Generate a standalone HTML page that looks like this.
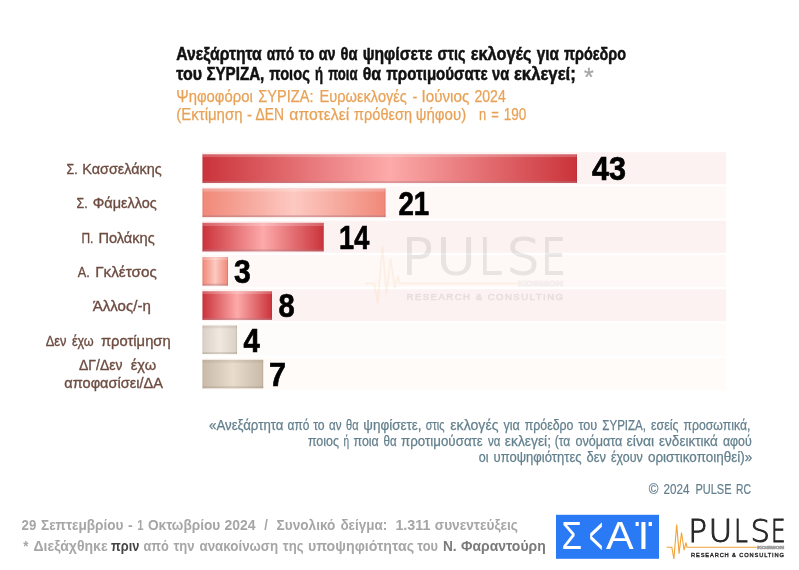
<!DOCTYPE html>
<html lang="el"><head><meta charset="utf-8"><title>PULSE RC - ΣΥΡΙΖΑ</title>
<style>html,body{margin:0;padding:0;background:#fff;}body{width:799px;height:570px;overflow:hidden;font-family:"Liberation Sans",sans-serif;}svg{display:block;}text{font-family:"Liberation Sans",sans-serif;}text.dv{font-family:"DejaVu Sans","Liberation Sans",sans-serif;font-weight:200;}</style>
</head><body>
<svg width="799" height="570" viewBox="0 0 799 570">
<defs>
<linearGradient id="gR" x1="0" y1="0" x2="1" y2="0"><stop offset="0" stop-color="#ca333a"/><stop offset="0.5" stop-color="#fdaaaa"/><stop offset="1" stop-color="#ca333a"/></linearGradient>
<linearGradient id="gS" x1="0" y1="0" x2="1" y2="0"><stop offset="0" stop-color="#f08878"/><stop offset="0.5" stop-color="#fdc9c2"/><stop offset="1" stop-color="#f08878"/></linearGradient>
<linearGradient id="gB1" x1="0" y1="0" x2="1" y2="0"><stop offset="0" stop-color="#d9d0c6"/><stop offset="0.5" stop-color="#f0e9e0"/><stop offset="1" stop-color="#d9d0c6"/></linearGradient>
<linearGradient id="gB2" x1="0" y1="0" x2="1" y2="0"><stop offset="0" stop-color="#c9baa9"/><stop offset="0.5" stop-color="#e8dccd"/><stop offset="1" stop-color="#c9baa9"/></linearGradient>
<linearGradient id="bevT" x1="0" y1="0" x2="0" y2="1"><stop offset="0" stop-color="#d8b0b0" stop-opacity="0.42"/><stop offset="0.3" stop-color="#ffffff" stop-opacity="0.2"/><stop offset="0.85" stop-color="#ffffff" stop-opacity="0.22"/><stop offset="1" stop-color="#ffffff" stop-opacity="0"/></linearGradient>
<linearGradient id="bevB" x1="0" y1="0" x2="0" y2="1"><stop offset="0" stop-color="#b08088" stop-opacity="0"/><stop offset="0.3" stop-color="#b08088" stop-opacity="0.35"/><stop offset="1" stop-color="#a06068" stop-opacity="0.45"/></linearGradient>
<linearGradient id="bevT2" x1="0" y1="0" x2="0" y2="1"><stop offset="0" stop-color="#a09080" stop-opacity="0.25"/><stop offset="0.85" stop-color="#a09080" stop-opacity="0.16"/><stop offset="1" stop-color="#a09080" stop-opacity="0"/></linearGradient>
<linearGradient id="bevB2" x1="0" y1="0" x2="0" y2="1"><stop offset="0" stop-color="#988878" stop-opacity="0"/><stop offset="0.3" stop-color="#988878" stop-opacity="0.25"/><stop offset="1" stop-color="#988878" stop-opacity="0.35"/></linearGradient>
</defs>
<rect width="799" height="570" fill="#ffffff"/>
<rect x="202" y="152.20" width="524" height="32.1" fill="#fdf2f2"/>
<rect x="202" y="186.44" width="524" height="32.1" fill="#fef8f7"/>
<rect x="202" y="220.68" width="524" height="32.1" fill="#fdf2f2"/>
<rect x="202" y="254.92" width="524" height="32.1" fill="#fef8f7"/>
<rect x="202" y="289.16" width="524" height="32.1" fill="#fdf2f2"/>
<rect x="202" y="323.40" width="524" height="32.1" fill="#fefcfb"/>
<rect x="202" y="357.64" width="524" height="32.1" fill="#fefbf9"/>
<rect x="202.5" y="154.35" width="374.5" height="28.5" fill="url(#gR)"/>
<rect x="202.5" y="154.35" width="374.5" height="3.2" fill="url(#bevT)"/>
<rect x="202.5" y="180.45" width="374.5" height="2.4" fill="url(#bevB)"/>
<rect x="576.1" y="154.35" width="0.9" height="28.5" fill="#803038" fill-opacity="0.18"/>
<rect x="202.5" y="154.35" width="0.9" height="28.5" fill="#803038" fill-opacity="0.12"/>
<rect x="202.5" y="188.59" width="183.0" height="28.5" fill="url(#gS)"/>
<rect x="202.5" y="188.59" width="183.0" height="3.2" fill="url(#bevT)"/>
<rect x="202.5" y="214.69" width="183.0" height="2.4" fill="url(#bevB)"/>
<rect x="384.6" y="188.59" width="0.9" height="28.5" fill="#803038" fill-opacity="0.18"/>
<rect x="202.5" y="188.59" width="0.9" height="28.5" fill="#803038" fill-opacity="0.12"/>
<rect x="202.5" y="222.83" width="121.2" height="28.5" fill="url(#gR)"/>
<rect x="202.5" y="222.83" width="121.2" height="3.2" fill="url(#bevT)"/>
<rect x="202.5" y="248.93" width="121.2" height="2.4" fill="url(#bevB)"/>
<rect x="322.8" y="222.83" width="0.9" height="28.5" fill="#803038" fill-opacity="0.18"/>
<rect x="202.5" y="222.83" width="0.9" height="28.5" fill="#803038" fill-opacity="0.12"/>
<rect x="202.5" y="257.07" width="25.5" height="28.5" fill="url(#gS)"/>
<rect x="202.5" y="257.07" width="25.5" height="3.2" fill="url(#bevT)"/>
<rect x="202.5" y="283.17" width="25.5" height="2.4" fill="url(#bevB)"/>
<rect x="227.1" y="257.07" width="0.9" height="28.5" fill="#803038" fill-opacity="0.18"/>
<rect x="202.5" y="257.07" width="0.9" height="28.5" fill="#803038" fill-opacity="0.12"/>
<rect x="202.5" y="291.31" width="69.5" height="28.5" fill="url(#gR)"/>
<rect x="202.5" y="291.31" width="69.5" height="3.2" fill="url(#bevT)"/>
<rect x="202.5" y="317.41" width="69.5" height="2.4" fill="url(#bevB)"/>
<rect x="271.1" y="291.31" width="0.9" height="28.5" fill="#803038" fill-opacity="0.18"/>
<rect x="202.5" y="291.31" width="0.9" height="28.5" fill="#803038" fill-opacity="0.12"/>
<rect x="202.5" y="325.55" width="34.5" height="28.5" fill="url(#gB1)"/>
<rect x="202.5" y="325.55" width="34.5" height="3.2" fill="url(#bevT2)"/>
<rect x="202.5" y="351.65" width="34.5" height="2.4" fill="url(#bevB2)"/>
<rect x="236.1" y="325.55" width="0.9" height="28.5" fill="#80705c" fill-opacity="0.18"/>
<rect x="202.5" y="325.55" width="0.9" height="28.5" fill="#80705c" fill-opacity="0.12"/>
<rect x="202.5" y="359.79" width="60.7" height="28.5" fill="url(#gB2)"/>
<rect x="202.5" y="359.79" width="60.7" height="3.2" fill="url(#bevT2)"/>
<rect x="202.5" y="385.89" width="60.7" height="2.4" fill="url(#bevB2)"/>
<rect x="262.3" y="359.79" width="0.9" height="28.5" fill="#80705c" fill-opacity="0.18"/>
<rect x="202.5" y="359.79" width="0.9" height="28.5" fill="#80705c" fill-opacity="0.12"/>
<text transform="translate(592.08,180.30) scale(0.913,1)" font-size="33.5" font-weight="bold" fill="#000" stroke="#000" stroke-width="0.7">43</text>
<text transform="translate(398.39,214.54) scale(0.826,1)" font-size="33.5" font-weight="bold" fill="#000" stroke="#000" stroke-width="0.7">21</text>
<text transform="translate(339.12,248.78) scale(0.809,1)" font-size="33.5" font-weight="bold" fill="#000" stroke="#000" stroke-width="0.7">14</text>
<text transform="translate(233.99,283.02) scale(0.900,1)" font-size="33.5" font-weight="bold" fill="#000" stroke="#000" stroke-width="0.7">3</text>
<text transform="translate(278.54,317.26) scale(0.869,1)" font-size="33.5" font-weight="bold" fill="#000" stroke="#000" stroke-width="0.7">8</text>
<text transform="translate(243.53,351.50) scale(0.875,1)" font-size="33.5" font-weight="bold" fill="#000" stroke="#000" stroke-width="0.7">4</text>
<text transform="translate(269.08,385.74) scale(0.912,1)" font-size="33.5" font-weight="bold" fill="#000" stroke="#000" stroke-width="0.7">7</text>
<text y="60.3" font-size="18.0" font-weight="bold" stroke-width="0.5"><tspan x="176.2" textLength="85.6" lengthAdjust="spacingAndGlyphs" fill="#111" stroke="#111">Ανεξάρτητα</tspan> <tspan x="266.7" textLength="27.6" lengthAdjust="spacingAndGlyphs" fill="#111" stroke="#111">από</tspan> <tspan x="298.8" textLength="15.4" lengthAdjust="spacingAndGlyphs" fill="#111" stroke="#111">το</tspan> <tspan x="318.7" textLength="16.9" lengthAdjust="spacingAndGlyphs" fill="#111" stroke="#111">αν</tspan> <tspan x="340.6" textLength="16.9" lengthAdjust="spacingAndGlyphs" fill="#111" stroke="#111">θα</tspan> <tspan x="362.7" textLength="69.7" lengthAdjust="spacingAndGlyphs" fill="#111" stroke="#111">ψηφίσετε</tspan> <tspan x="437.6" textLength="27.9" lengthAdjust="spacingAndGlyphs" fill="#111" stroke="#111">στις</tspan> <tspan x="470.7" textLength="60.8" lengthAdjust="spacingAndGlyphs" fill="#111" stroke="#111">εκλογές</tspan> <tspan x="536.7" textLength="22.1" lengthAdjust="spacingAndGlyphs" fill="#111" stroke="#111">για</tspan> <tspan x="564.0" textLength="62.1" lengthAdjust="spacingAndGlyphs" fill="#111" stroke="#111">πρόεδρο</tspan></text>
<text y="80.3" font-size="18.0" font-weight="bold" stroke-width="0.5"><tspan x="176.2" textLength="25.8" lengthAdjust="spacingAndGlyphs" fill="#111" stroke="#111">του</tspan> <tspan x="206.4" textLength="57.9" lengthAdjust="spacingAndGlyphs" fill="#111" stroke="#111">ΣΥΡΙΖΑ,</tspan> <tspan x="269.3" textLength="40.5" lengthAdjust="spacingAndGlyphs" fill="#111" stroke="#111">ποιος</tspan> <tspan x="315.0" textLength="8.0" lengthAdjust="spacingAndGlyphs" fill="#111" stroke="#111">ή</tspan> <tspan x="328.2" textLength="29.3" lengthAdjust="spacingAndGlyphs" fill="#111" stroke="#111">ποια</tspan> <tspan x="362.7" textLength="18.4" lengthAdjust="spacingAndGlyphs" fill="#111" stroke="#111">θα</tspan> <tspan x="386.3" textLength="101.3" lengthAdjust="spacingAndGlyphs" fill="#111" stroke="#111">προτιμούσατε</tspan> <tspan x="492.0" textLength="17.2" lengthAdjust="spacingAndGlyphs" fill="#111" stroke="#111">να</tspan> <tspan x="513.9" textLength="61.9" lengthAdjust="spacingAndGlyphs" fill="#111" stroke="#111">εκλεγεί;</tspan></text>
<text x="583.9" y="85.6" font-size="25" fill="#a6a6a6" stroke="#a6a6a6" stroke-width="0.3">*</text>
<text y="101.8" font-size="15.8" stroke-width="0.25"><tspan x="176.3" textLength="76.5" lengthAdjust="spacingAndGlyphs" fill="#e8a257" stroke="#e8a257">Ψηφοφόροι</tspan> <tspan x="258.3" textLength="55.2" lengthAdjust="spacingAndGlyphs" fill="#e8a257" stroke="#e8a257">ΣΥΡΙΖΑ:</tspan> <tspan x="319.5" textLength="87.4" lengthAdjust="spacingAndGlyphs" fill="#e8a257" stroke="#e8a257">Ευρωεκλογές</tspan> <tspan x="412.5" textLength="4.8" lengthAdjust="spacingAndGlyphs" fill="#e8a257" stroke="#e8a257">-</tspan> <tspan x="421.6" textLength="47.6" lengthAdjust="spacingAndGlyphs" fill="#e8a257" stroke="#e8a257">Ιούνιος</tspan> <tspan x="474.5" textLength="31.2" lengthAdjust="spacingAndGlyphs" fill="#e8a257" stroke="#e8a257">2024</tspan></text>
<text y="120.3" font-size="15.8" stroke-width="0.25"><tspan x="176.3" textLength="66.2" lengthAdjust="spacingAndGlyphs" fill="#e8a257" stroke="#e8a257">(Εκτίμηση</tspan> <tspan x="247.0" textLength="5.0" lengthAdjust="spacingAndGlyphs" fill="#e8a257" stroke="#e8a257">-</tspan> <tspan x="255.6" textLength="28.4" lengthAdjust="spacingAndGlyphs" fill="#e8a257" stroke="#e8a257">ΔΕΝ</tspan> <tspan x="289.3" textLength="60.0" lengthAdjust="spacingAndGlyphs" fill="#e8a257" stroke="#e8a257">αποτελεί</tspan> <tspan x="354.0" textLength="58.0" lengthAdjust="spacingAndGlyphs" fill="#e8a257" stroke="#e8a257">πρόθεση</tspan> <tspan x="415.7" textLength="50.6" lengthAdjust="spacingAndGlyphs" fill="#e8a257" stroke="#e8a257">ψήφου)</tspan></text>
<text y="120.3" font-size="15.8" stroke-width="0.25"><tspan x="478.9" textLength="7.2" lengthAdjust="spacingAndGlyphs" fill="#e8a257" stroke="#e8a257">n</tspan> <tspan x="491.3" textLength="7.6" lengthAdjust="spacingAndGlyphs" fill="#e8a257" stroke="#e8a257">=</tspan> <tspan x="503.8" textLength="22.6" lengthAdjust="spacingAndGlyphs" fill="#e8a257" stroke="#e8a257">190</tspan></text>
<text y="429.8" font-size="14.3" stroke-width="0.25"><tspan x="209.1" textLength="74.4" lengthAdjust="spacingAndGlyphs" fill="#64808e" stroke="#64808e">«Ανεξάρτητα</tspan> <tspan x="287.5" textLength="21.8" lengthAdjust="spacingAndGlyphs" fill="#64808e" stroke="#64808e">από</tspan> <tspan x="313.2" textLength="11.5" lengthAdjust="spacingAndGlyphs" fill="#64808e" stroke="#64808e">το</tspan> <tspan x="329.1" textLength="12.5" lengthAdjust="spacingAndGlyphs" fill="#64808e" stroke="#64808e">αν</tspan> <tspan x="346.0" textLength="12.5" lengthAdjust="spacingAndGlyphs" fill="#64808e" stroke="#64808e">θα</tspan> <tspan x="363.3" textLength="58.3" lengthAdjust="spacingAndGlyphs" fill="#64808e" stroke="#64808e">ψηφίσετε,</tspan> <tspan x="425.8" textLength="18.7" lengthAdjust="spacingAndGlyphs" fill="#64808e" stroke="#64808e">στις</tspan> <tspan x="450.3" textLength="48.2" lengthAdjust="spacingAndGlyphs" fill="#64808e" stroke="#64808e">εκλογές</tspan> <tspan x="503.5" textLength="16.3" lengthAdjust="spacingAndGlyphs" fill="#64808e" stroke="#64808e">για</tspan> <tspan x="524.8" textLength="48.7" lengthAdjust="spacingAndGlyphs" fill="#64808e" stroke="#64808e">πρόεδρο</tspan> <tspan x="578.5" textLength="18.7" lengthAdjust="spacingAndGlyphs" fill="#64808e" stroke="#64808e">του</tspan> <tspan x="602.3" textLength="43.7" lengthAdjust="spacingAndGlyphs" fill="#64808e" stroke="#64808e">ΣΥΡΙΖΑ,</tspan> <tspan x="651.0" textLength="27.5" lengthAdjust="spacingAndGlyphs" fill="#64808e" stroke="#64808e">εσείς</tspan> <tspan x="683.5" textLength="66.9" lengthAdjust="spacingAndGlyphs" fill="#64808e" stroke="#64808e">προσωπικά,</tspan></text>
<text y="446.0" font-size="14.3" stroke-width="0.25"><tspan x="307.9" textLength="31.2" lengthAdjust="spacingAndGlyphs" fill="#64808e" stroke="#64808e">ποιος</tspan> <tspan x="343.5" textLength="5.6" lengthAdjust="spacingAndGlyphs" fill="#64808e" stroke="#64808e">ή</tspan> <tspan x="353.5" textLength="25.2" lengthAdjust="spacingAndGlyphs" fill="#64808e" stroke="#64808e">ποια</tspan> <tspan x="383.5" textLength="13.1" lengthAdjust="spacingAndGlyphs" fill="#64808e" stroke="#64808e">θα</tspan> <tspan x="401.0" textLength="81.8" lengthAdjust="spacingAndGlyphs" fill="#64808e" stroke="#64808e">προτιμούσατε</tspan> <tspan x="487.9" textLength="12.4" lengthAdjust="spacingAndGlyphs" fill="#64808e" stroke="#64808e">να</tspan> <tspan x="504.8" textLength="46.2" lengthAdjust="spacingAndGlyphs" fill="#64808e" stroke="#64808e">εκλεγεί;</tspan> <tspan x="554.7" textLength="15.6" lengthAdjust="spacingAndGlyphs" fill="#64808e" stroke="#64808e">(τα</tspan> <tspan x="575.4" textLength="46.9" lengthAdjust="spacingAndGlyphs" fill="#64808e" stroke="#64808e">ονόματα</tspan> <tspan x="626.6" textLength="27.5" lengthAdjust="spacingAndGlyphs" fill="#64808e" stroke="#64808e">είναι</tspan> <tspan x="659.1" textLength="58.8" lengthAdjust="spacingAndGlyphs" fill="#64808e" stroke="#64808e">ενδεικτικά</tspan> <tspan x="722.9" textLength="28.8" lengthAdjust="spacingAndGlyphs" fill="#64808e" stroke="#64808e">αφού</tspan></text>
<text y="461.7" font-size="14.3" stroke-width="0.25"><tspan x="478.7" textLength="9.8" lengthAdjust="spacingAndGlyphs" fill="#64808e" stroke="#64808e">οι</tspan> <tspan x="493.5" textLength="88.1" lengthAdjust="spacingAndGlyphs" fill="#64808e" stroke="#64808e">υποψηφιότητες</tspan> <tspan x="586.6" textLength="19.4" lengthAdjust="spacingAndGlyphs" fill="#64808e" stroke="#64808e">δεν</tspan> <tspan x="611.0" textLength="31.8" lengthAdjust="spacingAndGlyphs" fill="#64808e" stroke="#64808e">έχουν</tspan> <tspan x="647.9" textLength="104.4" lengthAdjust="spacingAndGlyphs" fill="#64808e" stroke="#64808e">οριστικοποιηθεί)»</tspan></text>
<text y="493.8" font-size="14.4" stroke-width="0.2"><tspan x="648.7" textLength="9.7" lengthAdjust="spacingAndGlyphs" fill="#64808e" stroke="#64808e">©</tspan> <tspan x="663.4" textLength="26.0" lengthAdjust="spacingAndGlyphs" fill="#64808e" stroke="#64808e">2024</tspan> <tspan x="695.4" textLength="36.1" lengthAdjust="spacingAndGlyphs" fill="#64808e" stroke="#64808e">PULSE</tspan> <tspan x="735.9" textLength="15.0" lengthAdjust="spacingAndGlyphs" fill="#64808e" stroke="#64808e">RC</tspan></text>
<text y="529.6" font-size="13.8" font-weight="bold"><tspan x="21.6" textLength="14.7" lengthAdjust="spacingAndGlyphs" fill="#a6a6a6">29</tspan> <tspan x="41.0" textLength="82.5" lengthAdjust="spacingAndGlyphs" fill="#a6a6a6">Σεπτεμβρίου</tspan> <tspan x="127.9" textLength="4.7" lengthAdjust="spacingAndGlyphs" fill="#a6a6a6">-</tspan> <tspan x="137.2" textLength="6.3" lengthAdjust="spacingAndGlyphs" fill="#a6a6a6">1</tspan> <tspan x="147.9" textLength="72.4" lengthAdjust="spacingAndGlyphs" fill="#a6a6a6">Οκτωβρίου</tspan> <tspan x="224.5" textLength="31.1" lengthAdjust="spacingAndGlyphs" fill="#a6a6a6">2024</tspan> <tspan x="264.3" textLength="3.6" lengthAdjust="spacingAndGlyphs" fill="#a6a6a6">/</tspan> <tspan x="276.6" textLength="58.8" lengthAdjust="spacingAndGlyphs" fill="#a6a6a6">Συνολικό</tspan> <tspan x="340.4" textLength="46.8" lengthAdjust="spacingAndGlyphs" fill="#a6a6a6">δείγμα:</tspan> <tspan x="395.4" textLength="35.0" lengthAdjust="spacingAndGlyphs" fill="#a6a6a6">1.311</tspan> <tspan x="434.8" textLength="83.1" lengthAdjust="spacingAndGlyphs" fill="#a6a6a6">συνεντεύξεις</tspan></text>
<text y="551.4" font-size="13.8" font-weight="bold"><tspan x="23.2" textLength="5.2" lengthAdjust="spacingAndGlyphs" fill="#a6a6a6">*</tspan> <tspan x="33.5" textLength="74.1" lengthAdjust="spacingAndGlyphs" fill="#a6a6a6">Διεξάχθηκε</tspan> <tspan x="111.0" textLength="28.3" lengthAdjust="spacingAndGlyphs" fill="#454545">πριν</tspan> <tspan x="143.5" textLength="25.4" lengthAdjust="spacingAndGlyphs" fill="#a6a6a6">από</tspan> <tspan x="173.5" textLength="21.1" lengthAdjust="spacingAndGlyphs" fill="#a6a6a6">την</tspan> <tspan x="199.5" textLength="78.6" lengthAdjust="spacingAndGlyphs" fill="#a6a6a6">ανακοίνωση</tspan> <tspan x="282.8" textLength="20.7" lengthAdjust="spacingAndGlyphs" fill="#a6a6a6">της</tspan> <tspan x="307.9" textLength="106.2" lengthAdjust="spacingAndGlyphs" fill="#a6a6a6">υποψηφιότητας</tspan> <tspan x="417.3" textLength="20.6" lengthAdjust="spacingAndGlyphs" fill="#a6a6a6">του</tspan> <tspan x="442.9" textLength="13.7" lengthAdjust="spacingAndGlyphs" fill="#7a7a7a">Ν.</tspan> <tspan x="461.0" textLength="84.7" lengthAdjust="spacingAndGlyphs" fill="#7a7a7a">Φαραντούρη</tspan></text>
<text y="174.1" font-size="15.0" stroke-width="0.35"><tspan x="66.5" textLength="11.2" lengthAdjust="spacingAndGlyphs" fill="#6d4c41" stroke="#6d4c41">Σ.</tspan> <tspan x="82.3" textLength="79.3" lengthAdjust="spacingAndGlyphs" fill="#6d4c41" stroke="#6d4c41">Κασσελάκης</tspan></text>
<text y="208.2" font-size="15.0" stroke-width="0.35"><tspan x="76.6" textLength="11.1" lengthAdjust="spacingAndGlyphs" fill="#6d4c41" stroke="#6d4c41">Σ.</tspan> <tspan x="92.8" textLength="64.0" lengthAdjust="spacingAndGlyphs" fill="#6d4c41" stroke="#6d4c41">Φάμελλος</tspan></text>
<text y="242.7" font-size="15.0" stroke-width="0.35"><tspan x="81.5" textLength="11.9" lengthAdjust="spacingAndGlyphs" fill="#6d4c41" stroke="#6d4c41">Π.</tspan> <tspan x="98.4" textLength="56.3" lengthAdjust="spacingAndGlyphs" fill="#6d4c41" stroke="#6d4c41">Πολάκης</tspan></text>
<text y="276.9" font-size="15.0" stroke-width="0.35"><tspan x="77.8" textLength="12.0" lengthAdjust="spacingAndGlyphs" fill="#6d4c41" stroke="#6d4c41">Α.</tspan> <tspan x="95.2" textLength="61.6" lengthAdjust="spacingAndGlyphs" fill="#6d4c41" stroke="#6d4c41">Γκλέτσος</tspan></text>
<text y="311.2" font-size="15.0" stroke-width="0.35"><tspan x="92.7" textLength="58.1" lengthAdjust="spacingAndGlyphs" fill="#6d4c41" stroke="#6d4c41">Άλλος/-η</tspan></text>
<text y="345.8" font-size="15.0" stroke-width="0.35"><tspan x="45.7" textLength="20.8" lengthAdjust="spacingAndGlyphs" fill="#6d4c41" stroke="#6d4c41">Δεν</tspan> <tspan x="71.9" textLength="21.8" lengthAdjust="spacingAndGlyphs" fill="#6d4c41" stroke="#6d4c41">έχω</tspan> <tspan x="100.9" textLength="69.8" lengthAdjust="spacingAndGlyphs" fill="#6d4c41" stroke="#6d4c41">προτίμηση</tspan></text>
<text y="370.3" font-size="15.0" stroke-width="0.35"><tspan x="79.0" textLength="43.5" lengthAdjust="spacingAndGlyphs" fill="#6d4c41" stroke="#6d4c41">ΔΓ/Δεν</tspan> <tspan x="130.8" textLength="25.3" lengthAdjust="spacingAndGlyphs" fill="#6d4c41" stroke="#6d4c41">έχω</tspan></text>
<text y="387.9" font-size="15.0" stroke-width="0.35"><tspan x="64.3" textLength="98.7" lengthAdjust="spacingAndGlyphs" fill="#6d4c41" stroke="#6d4c41">αποφασίσει/ΔΑ</tspan></text>
<rect x="556" y="514.8" width="103" height="44" fill="#2b7af5"/>
<g fill="#ffffff" font-size="38.8">
<text transform="translate(561.6,548.7) scale(0.86,1)">Σ</text>
<text transform="translate(589.0,553.9) scale(0.80,1.80)" font-size="30">&lt;</text>
<text transform="translate(606.0,548.7) scale(1.07,1)">Α</text>
<text transform="translate(637.4,548.7) scale(1.1,1)">Ι</text>
<rect x="635.6" y="522" width="3.1" height="4" fill="#fff"/><rect x="648.6" y="522" width="3.3" height="4" fill="#fff"/>
</g>
<g transform="translate(407,273.9) scale(1.683) translate(-691.3,-541.5)" opacity="0.095">
<text transform="translate(688.2,541.6) scale(1.0,0.945)" class="dv" font-size="31.1" fill="#222" stroke="#222" stroke-width="1.3">P</text>
<text transform="translate(708.6,541.6) scale(1.047,0.945)" class="dv" font-size="31.1" fill="#222" stroke="#222" stroke-width="1.3">U</text>
<text transform="translate(734.0,541.6) scale(0.8,0.945)" class="dv" font-size="31.1" fill="#222" stroke="#222" stroke-width="1.3">L</text>
<text transform="translate(750.6,541.6) scale(0.99,0.945)" class="dv" font-size="31.1" fill="#222" stroke="#222" stroke-width="1.3">S</text>
<text transform="translate(771.1,541.6) scale(0.74,0.945)" class="dv" font-size="31.1" fill="#222" stroke="#222" stroke-width="1.3">E</text>
<path d="M666.6 547.2 H671.8 L673.9 558.9 L676.7 524.6 L679.1 553.6 L681.5 532.5 L684.1 550.1 L685.9 542.6 L687 547.2 H756.8" fill="none" stroke="#f2a33a" stroke-width="1.1" stroke-linejoin="miter"/>
<text x="757.3" y="548.8" font-size="4.2" font-weight="bold" fill="#999" stroke="#999" stroke-width="0.7" textLength="26.8" lengthAdjust="spacingAndGlyphs">KOSMON</text>
<text x="691" y="556.8" font-size="5.7" fill="#222" stroke="#222" stroke-width="0.35" textLength="93" lengthAdjust="spacing">RESEARCH &amp; CONSULTING</text>
</g>
<g transform="" opacity="1">
<text transform="translate(688.2,541.6) scale(1.0,1)" class="dv" font-size="31.1" fill="#262626" stroke="#262626" stroke-width="0.95">P</text>
<text transform="translate(708.6,541.6) scale(1.047,1)" class="dv" font-size="31.1" fill="#262626" stroke="#262626" stroke-width="0.95">U</text>
<text transform="translate(734.0,541.6) scale(0.8,1)" class="dv" font-size="31.1" fill="#262626" stroke="#262626" stroke-width="0.95">L</text>
<text transform="translate(750.6,541.6) scale(0.99,1)" class="dv" font-size="31.1" fill="#262626" stroke="#262626" stroke-width="0.95">S</text>
<text transform="translate(771.1,541.6) scale(0.74,1)" class="dv" font-size="31.1" fill="#262626" stroke="#262626" stroke-width="0.95">E</text>
<path d="M666.6 547.2 H671.8 L673.9 558.9 L676.7 524.6 L679.1 553.6 L681.5 532.5 L684.1 550.1 L685.9 542.6 L687 547.2 H756.8" fill="none" stroke="#f2a33a" stroke-width="1.1" stroke-linejoin="miter"/>
<text x="757.3" y="548.8" font-size="4.2" font-weight="bold" fill="#a0a0a0" stroke="#a0a0a0" stroke-width="0.7" textLength="26.8" lengthAdjust="spacingAndGlyphs">KOSMON</text>
<text x="691" y="556.8" font-size="5.7" fill="#262626" stroke="#262626" stroke-width="0.35" textLength="93" lengthAdjust="spacing">RESEARCH &amp; CONSULTING</text>
</g>
</svg>
</body></html>
